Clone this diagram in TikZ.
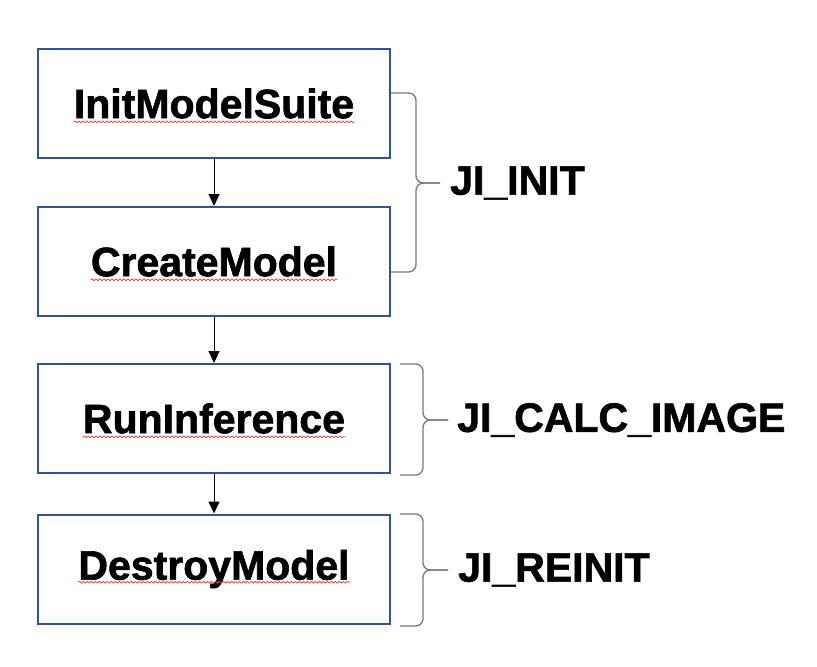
\documentclass[tikz,border=0pt]{standalone}
\usepackage{fontspec}
\setmainfont{Liberation Sans}[BoldFeatures={FakeBold=1.6}]
\usetikzlibrary{arrows.meta, decorations.pathmorphing}
\definecolor{boxline}{HTML}{2F5597}
\definecolor{bracegray}{HTML}{7A7A7A}
\definecolor{spellred}{HTML}{F04848}

\begin{document}
\begin{tikzpicture}[
  x=0.03cm, y=-0.03cm,
  block/.style={draw=boxline, line width=0.06cm, minimum width=10.56cm,
                minimum height=3.27cm, inner sep=0pt},
  blocktext/.style={inner sep=0pt, font=\fontsize{35}{42}\selectfont\bfseries},
  phase/.style={anchor=west, inner sep=0pt, font=\fontsize{35}{42}\selectfont\bfseries},
  flow/.style={line width=0.03cm, -{Triangle[length=0.36cm, width=0.33cm]}},
  curly/.style={draw=bracegray, line width=0.04cm, rounded corners=0.22cm},
  squiggle/.style={draw=spellred, line width=0.025cm, decorate,
                   decoration={snake, amplitude=0.025cm, segment length=0.12cm}},
]

\useasboundingbox (0,0) rectangle (817,666);

\node[block] (init) at (214,103.5) {};
\node[block] (create) at (214,261.5) {};
\node[block] (infer) at (214,418.5) {};
\node[block] (destroy) at (214,569) {};

\node[blocktext] (initT) at (init) {InitModelSuite};
\node[blocktext] (createT) at (create) {CreateModel};
\node[blocktext] (inferT) at (infer) {RunInference};
\node[blocktext] (destroyT) at (destroy) {DestroyModel};

\draw[squiggle] ([yshift=-0.11cm]initT.base west) -- ([yshift=-0.11cm]initT.base east);
\draw[squiggle] ([yshift=-0.11cm]createT.base west) -- ([yshift=-0.11cm]createT.base east);
\draw[squiggle] ([yshift=-0.11cm]inferT.base west) -- ([yshift=-0.11cm]inferT.base east);
\draw[squiggle] ([yshift=-0.08cm]destroyT.base west) -- ([yshift=-0.08cm]destroyT.base east);

\draw[flow] (init) -- (create);
\draw[flow] (create) -- (infer);
\draw[flow] (infer) -- (destroy);

% braces
\draw[curly] (391,93) -| (416,183) -- (440,183);
\draw[curly] (391,272) -| (416,183) -- (440,183);
\draw[curly] (400,364) -| (423,420) -- (448,420);
\draw[curly] (400,475) -| (423,420) -- (448,420);
\draw[curly] (400,514) -| (423,570) -- (448,570);
\draw[curly] (400,626) -| (423,570) -- (448,570);

\node[phase] (initP) at (450,183) {JI\_INIT};
\node[phase] (calcP) at (457,420) {JI\_CALC\_IMAGE};
\node[phase] (reinitP) at (458,570) {JI\_REINIT};

\end{tikzpicture}
\end{document}
